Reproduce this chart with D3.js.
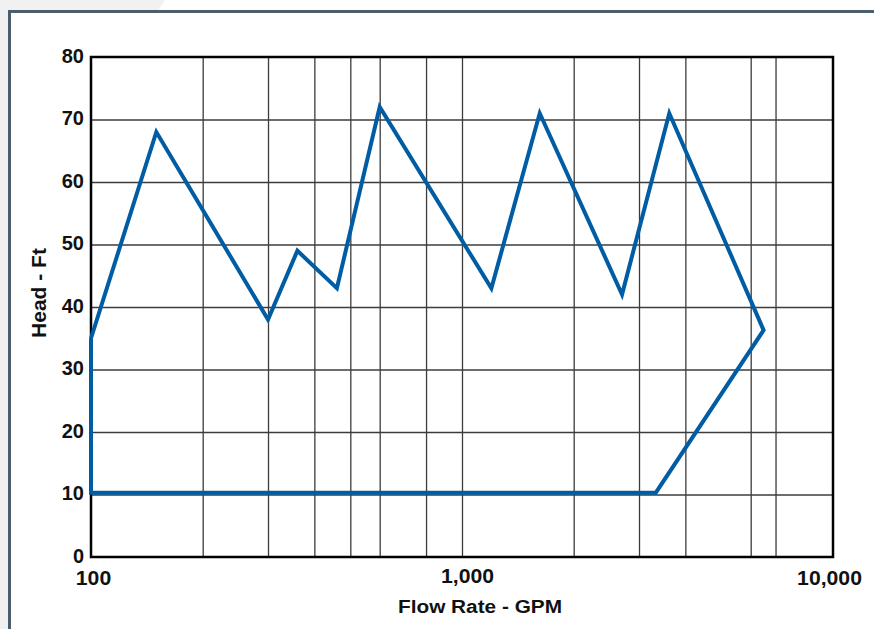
<!DOCTYPE html>
<html>
<head>
<meta charset="utf-8">
<script src="https://cdn.jsdelivr.net/npm/d3@7"></script>
<style>
  body { margin: 0; background: #fff; }
  svg { display: block; font-family: "Liberation Sans", Arial, sans-serif; }
  .grid line { stroke: #3c3c3c; stroke-width: 1.3; }
  .grid path { display: none; }
  .lbl text { font-size: 20px; font-weight: bold; fill: #111; }
  .lbl path, .lbl line { display: none; }
</style>
</head>
<body>
<svg id="chart" width="874" height="629"></svg>
<script>
// curve points: flow (GPM) and head (ft), traced clockwise
var flow = [100, 150, 300, 360, 460, 600, 1200, 1620, 2700, 3620, 6500, 3330, 100, 100];
var head = [35, 68, 38, 49, 43, 72, 43, 71, 42, 71, 36.3, 10.3, 10.3, 35];

var xGrid = [200, 300, 400, 500, 600, 800, 1000, 2000, 3000, 4000, 6000, 7000];
var xLabels = [100, 1000, 10000];
var yTicks = [0, 10, 20, 30, 40, 50, 60, 70, 80];

var svg = d3.select('#chart');
var m = {left: 91, top: 57, right: 833, bottom: 557};

// page backdrop + frame
svg.append('path')
    .attr('d', 'M0 0 L165 0 L0 250 Z')
    .style('fill', '#f1f1f1');
svg.append('rect')
    .attr('x', 0).attr('y', 0).attr('width', 9).attr('height', 629)
    .style('fill', '#f1f1f1');
svg.append('rect')
    .attr('x', 9.5).attr('y', 11.5).attr('width', 900).attr('height', 700)
    .style('fill', '#fff')
    .style('stroke', '#4b5e6d')
    .style('stroke-width', 3);

var x = d3.scaleLog().domain([100, 10000]).range([m.left, m.right]);
var y = d3.scaleLinear().domain([0, 80]).range([m.bottom, m.top]);

// grid
svg.append('g').attr('class', 'grid')
    .attr('transform', 'translate(0,' + m.bottom + ')')
    .call(d3.axisBottom(x).tickValues(xGrid).tickSize(-(m.bottom - m.top)).tickFormat(''));
svg.append('g').attr('class', 'grid')
    .attr('transform', 'translate(' + m.left + ',0)')
    .call(d3.axisLeft(y).tickValues(yTicks.slice(1, -1)).tickSize(-(m.right - m.left)).tickFormat(''));

// plot frame
svg.append('rect')
    .attr('x', m.left).attr('y', m.top)
    .attr('width', m.right - m.left).attr('height', m.bottom - m.top)
    .style('fill', 'none').style('stroke', '#000').style('stroke-width', 2.5);

// tick labels
svg.append('g').attr('class', 'lbl')
    .attr('transform', 'translate(' + (m.left - 7) + ',-1)')
    .call(d3.axisLeft(y).tickValues(yTicks).tickSize(0).tickPadding(0));

var xl = svg.append('g').attr('class', 'lbl')
    .attr('transform', 'translate(0,' + m.bottom + ')')
    .call(d3.axisBottom(x).tickValues(xLabels).tickSize(0).tickPadding(0)
        .tickFormat(d3.format(',')));
xl.selectAll('text')
    .attr('dy', null)
    .attr('y', function (d) { return d == 1000 ? 26 : 28; })
    .attr('dx', function (d) { return d == 100 ? 2 : (d == 1000 ? 5 : -4); })
    .each(function () {
        var w = this.getComputedTextLength();
        d3.select(this).attr('textLength', w * 1.06).attr('lengthAdjust', 'spacingAndGlyphs');
    });

// axis titles
svg.append('text')
    .attr('x', 480).attr('y', 613)
    .attr('text-anchor', 'middle')
    .attr('textLength', 164).attr('lengthAdjust', 'spacingAndGlyphs')
    .style('font-size', '18px').style('font-weight', 'bold').style('fill', '#111')
    .text('Flow Rate - GPM');
svg.append('text')
    .attr('transform', 'translate(46,293) rotate(-90)')
    .attr('text-anchor', 'middle')
    .style('font-size', '21px').style('font-weight', 'bold').style('fill', '#111')
    .text('Head - Ft');

// curve
var line = d3.line()
    .x(function (d, i) { return x(flow[i]); })
    .y(function (d, i) { return y(head[i]); });
svg.append('path')
    .datum(flow)
    .attr('d', line)
    .style('fill', 'none')
    .style('stroke', '#005ca3')
    .style('stroke-width', 4)
    .style('stroke-linejoin', 'miter');
</script>
</body>
</html>
